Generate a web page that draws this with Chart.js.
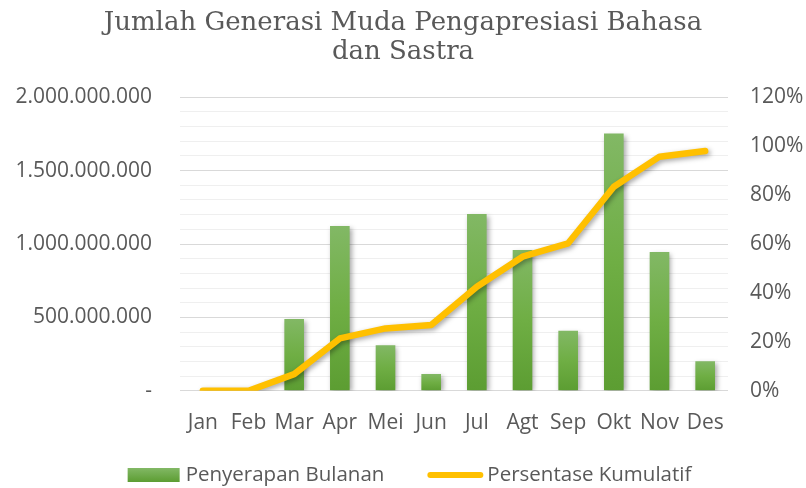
<!DOCTYPE html>
<html>
<head>
<meta charset="utf-8">
<script src="https://cdn.jsdelivr.net/npm/chart.js@4/dist/chart.umd.min.js"></script>
<style>
  html, body { margin: 0; padding: 0; background: #ffffff; }
  #wrap { width: 806px; height: 488px; position: relative; }
</style>
</head>
<body>
<div id="wrap"><canvas id="c"></canvas></div>
<script>
const titleLines = ['Jumlah Generasi Muda Pengapresiasi Bahasa', 'dan Sastra'];
const months = ['Jan','Feb','Mar','Apr','Mei','Jun','Jul','Agt','Sep','Okt','Nov','Des'];
const monthlyAbsorption = [0, 0, 489e6, 1123e6, 311e6, 114e6, 1204e6, 959e6, 409e6, 1752e6, 945e6, 202e6];
const cumulativePercent = [0, 0, 6.8, 21.4, 25.5, 26.9, 42.5, 54.8, 60.3, 83.4, 95.7, 98.0];
const seriesNames = ['Penyerapan Bulanan', 'Persentase Kumulatif'];

const TEXT = '#595959';
const FONT = "'Open Sans', sans-serif";
const GREEN = '#70ad47';
const GOLD = '#FFC000';

function fmtDots(v) {
  if (v === 0) return '-';
  return String(Math.round(v)).replace(/\B(?=(\d{3})+(?!\d))/g, '.');
}

function barGradient(ctx) {
  const chart = ctx.chart;
  if (!chart.chartArea || ctx.type !== 'data') return GREEN;
  const ys = chart.scales.y;
  const v = ctx.raw || 0;
  const top = ys.getPixelForValue(v);
  const base = ys.getPixelForValue(0);
  if (!(base - top > 0.5)) return GREEN;
  const g = chart.ctx.createLinearGradient(0, top, 0, base);
  g.addColorStop(0, '#82b865');
  g.addColorStop(0.5, '#6fae44');
  g.addColorStop(1, '#5c9d32');
  return g;
}

const shadowPlugin = {
  id: 'shadow',
  beforeDatasetDraw(chart) {
    const c = chart.ctx;
    c.save();
    c.shadowColor = 'rgba(0,0,0,0.35)';
    c.shadowBlur = 5;
    c.shadowOffsetX = 2;
    c.shadowOffsetY = 2;
  },
  afterDatasetDraw(chart) {
    chart.ctx.restore();
  }
};

// Legend drawn below the plot (Excel-like spacing)
const customLegend = {
  id: 'customLegend',
  afterDraw(chart) {
    const c = chart.ctx;
    const ds = chart.data.datasets;
    const fontSize = 20.5;
    c.save();
    c.font = fontSize + "px " + FONT;
    c.textBaseline = 'middle';
    c.textAlign = 'left';
    const w0 = c.measureText(ds[0].label).width;
    const w1 = c.measureText(ds[1].label).width;
    const boxW = 52, boxH = 14, gapText = 6, gapItems = 43, lineW = 56, gapText2 = 4;
    const total = boxW + gapText + w0 + gapItems + lineW + gapText2 + w1;
    let x = 409.5 - total / 2;
    const cy = 475;
    const g = c.createLinearGradient(0, cy - boxH / 2, 0, cy + boxH / 2);
    g.addColorStop(0, '#82b865');
    g.addColorStop(1, '#5c9d32');
    c.fillStyle = g;
    c.fillRect(x, cy - boxH / 2, boxW, boxH);
    x += boxW + gapText;
    c.fillStyle = TEXT;
    c.fillText(ds[0].label, x, cy);
    x += w0 + gapItems;
    c.strokeStyle = GOLD;
    c.lineWidth = 6;
    c.lineCap = 'round';
    c.beginPath();
    c.moveTo(x + 3, cy);
    c.lineTo(x + lineW - 3, cy);
    c.stroke();
    x += lineW + gapText2;
    c.fillStyle = TEXT;
    c.fillText(ds[1].label, x, cy);
    c.restore();
  }
};

new Chart(document.getElementById('c'), {
  data: {
    labels: months,
    datasets: [
      {
        type: 'bar',
        label: seriesNames[0],
        data: monthlyAbsorption,
        yAxisID: 'y',
        backgroundColor: barGradient,
        borderWidth: 0,
        categoryPercentage: 0.43,
        barPercentage: 1,
        order: 2
      },
      {
        type: 'line',
        label: seriesNames[1],
        data: cumulativePercent,
        yAxisID: 'y1',
        borderColor: GOLD,
        backgroundColor: GOLD,
        borderWidth: 6.5,
        borderCapStyle: 'round',
        borderJoinStyle: 'round',
        pointRadius: 0,
        tension: 0,
        fill: false,
        order: 1
      }
    ]
  },
  options: {
    responsive: true,
    maintainAspectRatio: false,
    animation: false,
    devicePixelRatio: 1,
    layout: { padding: { left: 0, right: 0, top: 9, bottom: 40 } },
    plugins: {
      tooltip: { enabled: false },
      legend: { display: false },
      title: {
        display: true,
        text: titleLines,
        color: TEXT,
        font: { family: "'DejaVu Serif', serif", size: 26, weight: 'normal', lineHeight: 1.1 },
        padding: { top: 0, bottom: 31 }
      }
    },
    scales: {
      x: {
        grid: { display: false },
        border: { display: false },
        ticks: { color: TEXT, font: { family: FONT, size: 21 }, padding: 12, maxRotation: 0, autoSkip: false }
      },
      y: {
        position: 'left',
        min: 0,
        max: 2e9,
        border: { display: false },
        grid: {
          drawTicks: false,
          color: (c) => (c.tick && c.tick.value % 5e8 === 0) ? '#d9d9d9' : '#efefef',
          lineWidth: 1
        },
        ticks: {
          stepSize: 1e8,
          maxTicksLimit: 30,
          autoSkip: false,
          color: TEXT,
          font: { family: FONT, size: 21 },
          padding: 28,
          callback: (v) => (v % 5e8 === 0) ? fmtDots(v) : ''
        },
        afterFit(scale) { scale.width = 180; }
      },
      y1: {
        position: 'right',
        min: 0,
        max: 120,
        border: { display: false },
        grid: { drawOnChartArea: false, drawTicks: false },
        ticks: {
          stepSize: 20,
          color: TEXT,
          font: { family: FONT, size: 21 },
          padding: 22,
          callback: (v) => v + '%'
        },
        afterFit(scale) { scale.width = 78; }
      }
    }
  },
  plugins: [shadowPlugin, customLegend]
});
</script>
</body>
</html>
